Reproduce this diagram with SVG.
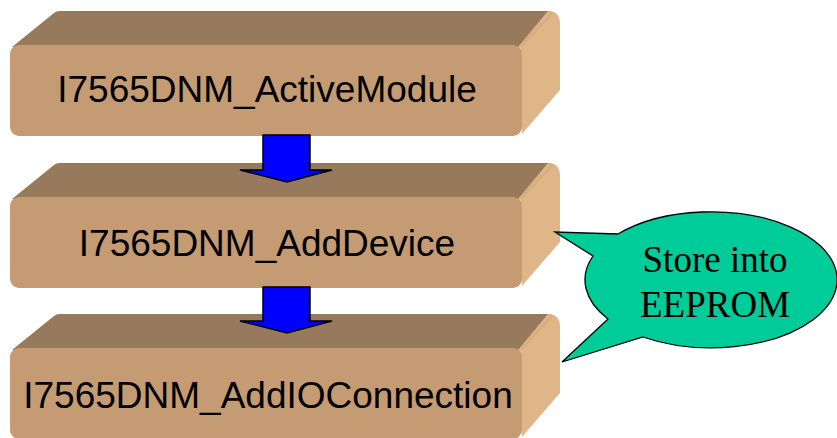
<svg xmlns="http://www.w3.org/2000/svg" width="837" height="438" viewBox="0 0 837 438">
  <defs>
    <style>
      .top { fill: #977a5c; }
      .side { fill: #dfb687; }
      .front { fill: #c59b73; }
      .edge { fill: none; stroke: #d8ad80; stroke-width: 3; }
      .label { font-family: "Liberation Sans", Arial, sans-serif; font-size: 37px; fill: #000; text-anchor: middle; }
      .arrow { fill: #0000ff; stroke: #000; stroke-width: 1.5; stroke-linejoin: miter; }
      .callout { fill: #00cc99; stroke: #000; stroke-width: 1.3; }
      .ctext { font-family: "Liberation Serif", "Times New Roman", serif; font-size: 37px; fill: #000; text-anchor: middle; }
    </style>
    <g id="box">
      <path class="top" d="M12,47 L54,13 Q56,11 60,11 L548,11 Q552,11 554,13 L520,47 Z"/>
      <path class="side" d="M518,47 L548,11 Q560,11 560,24 L560,90 L522,134 Z"/>
      <path class="edge" d="M521,46 L552,13"/>
      <rect class="front" x="10" y="45" width="512" height="91" rx="9"/>
    </g>
  </defs>

  <g id="node1">
    <use href="#box"/>
    <text class="label" x="267" y="102">I7565DNM_ActiveModule</text>
  </g>
  <g id="node2">
    <use href="#box" transform="translate(0,152)"/>
    <text class="label" x="267" y="256">I7565DNM_AddDevice</text>
  </g>
  <g id="node3">
    <use href="#box" transform="translate(0,303)"/>
    <text class="label" x="268" y="408">I7565DNM_AddIOConnection</text>
  </g>

  <g id="connectors">
    <polygon class="arrow" points="263,135 310,135 310,170 332,170 287,182 240,170 263,170"/>
    <polygon class="arrow" points="263,287 310,287 310,321 332,321 287,333 240,321 263,321"/>
  </g>

  <g id="callout">
    <path class="callout" d="M618,234 L555,232 L593,256 A126,68 0 0,0 608,319 L562,362 L643,337 A126,68 0 1,0 618,234 Z"/>
    <text class="ctext" x="715" y="272">Store into</text>
    <text class="ctext" x="715" y="317">EEPROM</text>
  </g>
</svg>
